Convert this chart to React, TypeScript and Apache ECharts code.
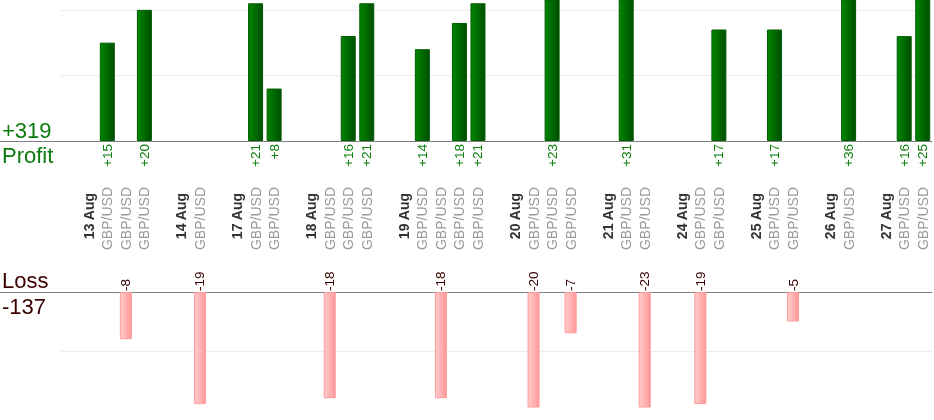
import React, { useEffect, useRef } from 'react';
import * as echarts from 'echarts';

// ---- data ----
const dayLabels = ['13 Aug', '14 Aug', '17 Aug', '18 Aug', '19 Aug', '20 Aug', '21 Aug', '24 Aug', '25 Aug', '26 Aug', '27 Aug'];
const dayTrades = [
  [15, -8, 20],
  [-19],
  [21, 8],
  [-18, 16, 21],
  [14, -18, 18, 21],
  [-20, 23, -7],
  [31, -23],
  [-19, 17],
  [17, -5],
  [36],
  [16, 25],
];
const pairLabel = 'GBP/USD';
const profitAxisMax = 21.5;
const lossAxisMax = 19.5;
const gridStep = 10;

// ---- slots built from data ----
const slotIds: string[] = [];
const dateSlots: string[] = [];
const pairSlots: string[] = [];
const profitSlots: (number | string)[] = [];
const lossSlots: (number | string)[] = [];
const pushSlot = (date: string, pair: string, p: number | string, l: number | string) => {
  slotIds.push(String(slotIds.length));
  dateSlots.push(date);
  pairSlots.push(pair);
  profitSlots.push(p);
  lossSlots.push(l);
};
dayLabels.forEach((d, i) => {
  pushSlot('', '', '-', '-');
  pushSlot(d, '', '-', '-');
  dayTrades[i].forEach((v) => pushSlot('', pairLabel, v > 0 ? v : '-', v < 0 ? -v : '-'));
});
const allTrades = dayTrades.flat();
const profitTotal = allTrades.filter((v) => v > 0).reduce((a, b) => a + b, 0);
const lossTotal = allTrades.filter((v) => v < 0).reduce((a, b) => a + b, 0);

const FONT = '"Liberation Sans", Arial, sans-serif';
const GRID_LEFT = 61;
const GRID_RIGHT = 2;
const TOP_H = 141;
const BOT_TOP = 292;
const BOT_H = 115;
const AXIS_COLOR = '#808080';
const SPLIT_COLOR = '#ececec';
const SIDE_FONT = 22;
const VALUE_FONT = 13.5;

export default function App() {
  const ref = useRef<HTMLDivElement>(null);
  useEffect(() => {
    if (!ref.current) return;
    const chart = echarts.init(ref.current, undefined, { renderer: 'svg' });
    const valueAxisBase = {
      type: 'value',
      min: 0,
      interval: gridStep,
      axisLine: { show: false },
      axisTick: { show: false },
      axisLabel: { show: false },
      splitLine: { show: true, showMinLine: false, showMaxLine: false, lineStyle: { color: SPLIT_COLOR, width: 1 } },
    };
    const option: any = {
      animation: false,
      grid: [
        { left: GRID_LEFT, right: GRID_RIGHT, top: 0, height: TOP_H, outerBoundsMode: 'none' },
        { left: GRID_LEFT, right: GRID_RIGHT, top: BOT_TOP, height: BOT_H, outerBoundsMode: 'none' },
      ],
      xAxis: [
        {
          type: 'category',
          gridIndex: 0,
          position: 'bottom',
          data: slotIds,
          axisLine: { show: true, lineStyle: { color: AXIS_COLOR, width: 1 } },
          axisTick: { show: false },
          splitLine: { show: false },
          axisLabel: {
            interval: 0,
            rotate: 90,
            margin: 46,
            color: '#9a9a9a',
            fontSize: 14,
            fontFamily: FONT,
            formatter: (_v: string, i: number) => pairSlots[i],
          },
        },
        {
          type: 'category',
          gridIndex: 0,
          position: 'bottom',
          data: slotIds,
          axisLine: { show: false },
          axisTick: { show: false },
          splitLine: { show: false },
          axisLabel: {
            interval: 0,
            rotate: 90,
            margin: 52,
            color: '#333333',
            fontWeight: 'bold',
            fontSize: 14,
            fontFamily: FONT,
            formatter: (_v: string, i: number) => dateSlots[i],
          },
        },
        {
          type: 'category',
          gridIndex: 1,
          position: 'top',
          data: slotIds,
          axisLine: { show: true, lineStyle: { color: AXIS_COLOR, width: 1 } },
          axisTick: { show: false },
          axisLabel: { show: false },
          splitLine: { show: false },
        },
      ],
      yAxis: [
        { ...valueAxisBase, gridIndex: 0, max: profitAxisMax },
        { ...valueAxisBase, gridIndex: 1, max: lossAxisMax, inverse: true },
      ],
      series: [
        {
          type: 'bar',
          name: 'Profit',
          xAxisIndex: 0,
          yAxisIndex: 0,
          data: profitSlots,
          barWidth: 15,
          clip: true,
          itemStyle: {
            color: new echarts.graphic.LinearGradient(0, 0, 1, 0, [
              { offset: 0, color: '#008600' },
              { offset: 1, color: '#004e00' },
            ]),
            borderColor: '#005c00',
            borderWidth: 1,
          },
          label: {
            show: true,
            position: 'bottom',
            distance: 3,
            rotate: 90,
            align: 'right',
            verticalAlign: 'middle',
            formatter: (p: any) => '+' + p.value,
            color: '#0a7f0a',
            fontSize: VALUE_FONT,
            fontFamily: FONT,
          },
        },
        {
          type: 'bar',
          name: 'Loss',
          xAxisIndex: 2,
          yAxisIndex: 1,
          data: lossSlots,
          barWidth: 12,
          clip: true,
          itemStyle: {
            color: new echarts.graphic.LinearGradient(0, 0, 1, 0, [
              { offset: 0, color: '#ffcccc' },
              { offset: 1, color: '#ff9999' },
            ]),
            borderColor: '#ff9a9a',
            borderWidth: 1,
          },
          label: {
            show: true,
            position: 'top',
            distance: 1,
            rotate: 90,
            align: 'left',
            verticalAlign: 'middle',
            formatter: (p: any) => '-' + p.value,
            color: '#3a0000',
            fontSize: VALUE_FONT,
            fontFamily: FONT,
          },
        },
      ],
      graphic: [
        {
          type: 'line',
          shape: { x1: 0, y1: TOP_H + 0.5, x2: GRID_LEFT, y2: TOP_H + 0.5 },
          style: { stroke: AXIS_COLOR, lineWidth: 1 },
        },
        {
          type: 'line',
          shape: { x1: 0, y1: BOT_TOP + 0.5, x2: GRID_LEFT, y2: BOT_TOP + 0.5 },
          style: { stroke: AXIS_COLOR, lineWidth: 1 },
        },
        {
          type: 'text',
          x: 2,
          y: 130,
          style: { text: '+' + profitTotal, fill: '#0c7a0c', fontSize: SIDE_FONT, fontFamily: FONT, align: 'left', verticalAlign: 'middle' },
        },
        {
          type: 'text',
          x: 2,
          y: 155.5,
          style: { text: 'Profit', fill: '#0c7a0c', fontSize: SIDE_FONT, fontFamily: FONT, align: 'left', verticalAlign: 'middle' },
        },
        {
          type: 'text',
          x: 2,
          y: 280.5,
          style: { text: 'Loss', fill: '#3a0000', fontSize: SIDE_FONT, fontFamily: FONT, align: 'left', verticalAlign: 'middle' },
        },
        {
          type: 'text',
          x: 2,
          y: 306.5,
          style: { text: String(lossTotal), fill: '#3a0000', fontSize: SIDE_FONT, fontFamily: FONT, align: 'left', verticalAlign: 'middle' },
        },
      ],
    };
    chart.setOption(option);
    return () => chart.dispose();
  }, []);
  return <div ref={ref} style={{ position: 'fixed', left: 0, top: 0, width: 934, height: 420 }} />;
}
